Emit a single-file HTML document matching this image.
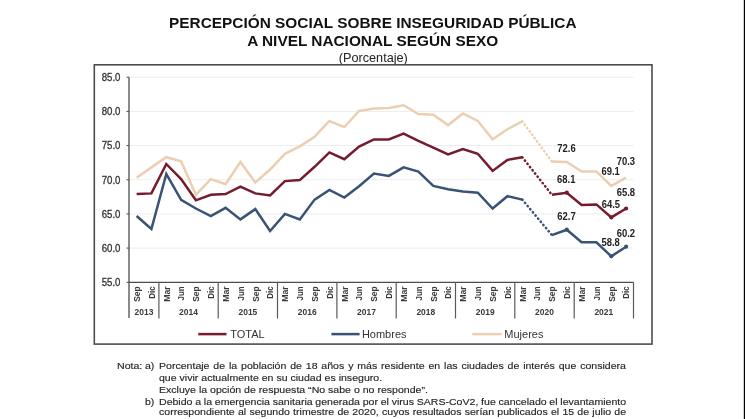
<!DOCTYPE html>
<html lang="es"><head><meta charset="utf-8">
<title>Percepción social sobre inseguridad pública</title>
<style>
html,body{margin:0;padding:0;background:#fff;}
body{width:745px;height:419px;overflow:hidden;position:relative;font-family:"Liberation Sans",Arial,sans-serif;}
svg{position:absolute;left:0;top:0;}
svg text{font-family:"Liberation Sans",Arial,sans-serif;}
.nota{position:absolute;left:0;top:0;width:745px;height:419px;color:#262626;font-size:9.8px;-webkit-text-stroke:0.15px #262626;}
.nl{position:absolute;white-space:nowrap;line-height:10px;transform:scaleX(1.078);transform-origin:0 0;}
.j{display:flex;justify-content:space-between;width:433.4px;}
</style></head><body>
<svg width="745" height="419" viewBox="0 0 745 419">
<rect x="0" y="0" width="745" height="419" fill="#fff"/>

<text x="169.1" y="28.2" font-size="15.2" font-weight="bold" fill="#111" textLength="407.4" lengthAdjust="spacingAndGlyphs">PERCEPCIÓN SOCIAL SOBRE INSEGURIDAD PÚBLICA</text>
<text x="247.2" y="46.0" font-size="15.2" font-weight="bold" fill="#111" textLength="251" lengthAdjust="spacingAndGlyphs">A NIVEL NACIONAL SEGÚN SEXO</text>
<text x="373.3" y="62" text-anchor="middle" font-size="12.7" fill="#222">(Porcentaje)</text>
<rect x="94.3" y="64.8" width="557.7" height="279.3" fill="none" stroke="#4d4d4d" stroke-width="1.6"/>
<line x1="129.0" y1="77.2" x2="633.5" y2="77.2" stroke="#ededed" stroke-width="1"/>
<line x1="129.0" y1="111.4" x2="633.5" y2="111.4" stroke="#ededed" stroke-width="1"/>
<line x1="129.0" y1="145.6" x2="633.5" y2="145.6" stroke="#ededed" stroke-width="1"/>
<line x1="129.0" y1="179.8" x2="633.5" y2="179.8" stroke="#ededed" stroke-width="1"/>
<line x1="129.0" y1="213.9" x2="633.5" y2="213.9" stroke="#ededed" stroke-width="1"/>
<line x1="129.0" y1="248.1" x2="633.5" y2="248.1" stroke="#ededed" stroke-width="1"/>
<line x1="126.5" y1="77.2" x2="129.0" y2="77.2" stroke="#4d4d4d" stroke-width="1"/>
<text x="101.7" y="80.6" font-size="10.2" fill="#333" stroke="#333" stroke-width="0.3" textLength="18.7" lengthAdjust="spacingAndGlyphs">85.0</text>
<line x1="126.5" y1="111.4" x2="129.0" y2="111.4" stroke="#4d4d4d" stroke-width="1"/>
<text x="101.7" y="114.9" font-size="10.2" fill="#333" stroke="#333" stroke-width="0.3" textLength="18.7" lengthAdjust="spacingAndGlyphs">80.0</text>
<line x1="126.5" y1="145.6" x2="129.0" y2="145.6" stroke="#4d4d4d" stroke-width="1"/>
<text x="101.7" y="149.2" font-size="10.2" fill="#333" stroke="#333" stroke-width="0.3" textLength="18.7" lengthAdjust="spacingAndGlyphs">75.0</text>
<line x1="126.5" y1="179.8" x2="129.0" y2="179.8" stroke="#4d4d4d" stroke-width="1"/>
<text x="101.7" y="183.5" font-size="10.2" fill="#333" stroke="#333" stroke-width="0.3" textLength="18.7" lengthAdjust="spacingAndGlyphs">70.0</text>
<line x1="126.5" y1="213.9" x2="129.0" y2="213.9" stroke="#4d4d4d" stroke-width="1"/>
<text x="101.7" y="217.8" font-size="10.2" fill="#333" stroke="#333" stroke-width="0.3" textLength="18.7" lengthAdjust="spacingAndGlyphs">65.0</text>
<line x1="126.5" y1="248.1" x2="129.0" y2="248.1" stroke="#4d4d4d" stroke-width="1"/>
<text x="101.7" y="252.1" font-size="10.2" fill="#333" stroke="#333" stroke-width="0.3" textLength="18.7" lengthAdjust="spacingAndGlyphs">60.0</text>
<line x1="126.5" y1="282.3" x2="129.0" y2="282.3" stroke="#4d4d4d" stroke-width="1"/>
<text x="101.7" y="286.4" font-size="10.2" fill="#333" stroke="#333" stroke-width="0.3" textLength="18.7" lengthAdjust="spacingAndGlyphs">55.0</text>
<line x1="129.0" y1="77.2" x2="129.0" y2="318.0" stroke="#4d4d4d" stroke-width="1.3"/>
<line x1="129.0" y1="282.3" x2="633.5" y2="282.3" stroke="#4d4d4d" stroke-width="1.3"/>
<line x1="158.9" y1="282.3" x2="158.9" y2="318.5" stroke="#5a5a5a" stroke-width="1.2"/>
<line x1="218.2" y1="282.3" x2="218.2" y2="318.5" stroke="#5a5a5a" stroke-width="1.2"/>
<line x1="277.5" y1="282.3" x2="277.5" y2="318.5" stroke="#5a5a5a" stroke-width="1.2"/>
<line x1="336.9" y1="282.3" x2="336.9" y2="318.5" stroke="#5a5a5a" stroke-width="1.2"/>
<line x1="396.2" y1="282.3" x2="396.2" y2="318.5" stroke="#5a5a5a" stroke-width="1.2"/>
<line x1="455.5" y1="282.3" x2="455.5" y2="318.5" stroke="#5a5a5a" stroke-width="1.2"/>
<line x1="514.8" y1="282.3" x2="514.8" y2="318.5" stroke="#5a5a5a" stroke-width="1.2"/>
<line x1="574.2" y1="282.3" x2="574.2" y2="318.5" stroke="#5a5a5a" stroke-width="1.2"/>
<line x1="633.5" y1="282.3" x2="633.5" y2="318.5" stroke="#5a5a5a" stroke-width="1.2"/>
<text transform="translate(136.6,286.3) rotate(-90)" x="0" y="0" text-anchor="end" font-size="9.2" font-weight="bold" fill="#3a3a3a" dy="3.2" textLength="15.5" lengthAdjust="spacingAndGlyphs">Sep</text>
<text transform="translate(151.4,286.3) rotate(-90)" x="0" y="0" text-anchor="end" font-size="9.2" font-weight="bold" fill="#3a3a3a" dy="3.2" textLength="12.4" lengthAdjust="spacingAndGlyphs">Dic</text>
<text transform="translate(166.3,286.3) rotate(-90)" x="0" y="0" text-anchor="end" font-size="9.2" font-weight="bold" fill="#3a3a3a" dy="3.2" textLength="15.5" lengthAdjust="spacingAndGlyphs">Mar</text>
<text transform="translate(181.1,286.3) rotate(-90)" x="0" y="0" text-anchor="end" font-size="9.2" font-weight="bold" fill="#3a3a3a" dy="3.2" textLength="14.1" lengthAdjust="spacingAndGlyphs">Jun</text>
<text transform="translate(195.9,286.3) rotate(-90)" x="0" y="0" text-anchor="end" font-size="9.2" font-weight="bold" fill="#3a3a3a" dy="3.2" textLength="15.5" lengthAdjust="spacingAndGlyphs">Sep</text>
<text transform="translate(210.8,286.3) rotate(-90)" x="0" y="0" text-anchor="end" font-size="9.2" font-weight="bold" fill="#3a3a3a" dy="3.2" textLength="12.4" lengthAdjust="spacingAndGlyphs">Dic</text>
<text transform="translate(225.6,286.3) rotate(-90)" x="0" y="0" text-anchor="end" font-size="9.2" font-weight="bold" fill="#3a3a3a" dy="3.2" textLength="15.5" lengthAdjust="spacingAndGlyphs">Mar</text>
<text transform="translate(240.4,286.3) rotate(-90)" x="0" y="0" text-anchor="end" font-size="9.2" font-weight="bold" fill="#3a3a3a" dy="3.2" textLength="14.1" lengthAdjust="spacingAndGlyphs">Jun</text>
<text transform="translate(255.3,286.3) rotate(-90)" x="0" y="0" text-anchor="end" font-size="9.2" font-weight="bold" fill="#3a3a3a" dy="3.2" textLength="15.5" lengthAdjust="spacingAndGlyphs">Sep</text>
<text transform="translate(270.1,286.3) rotate(-90)" x="0" y="0" text-anchor="end" font-size="9.2" font-weight="bold" fill="#3a3a3a" dy="3.2" textLength="12.4" lengthAdjust="spacingAndGlyphs">Dic</text>
<text transform="translate(284.9,286.3) rotate(-90)" x="0" y="0" text-anchor="end" font-size="9.2" font-weight="bold" fill="#3a3a3a" dy="3.2" textLength="15.5" lengthAdjust="spacingAndGlyphs">Mar</text>
<text transform="translate(299.8,286.3) rotate(-90)" x="0" y="0" text-anchor="end" font-size="9.2" font-weight="bold" fill="#3a3a3a" dy="3.2" textLength="14.1" lengthAdjust="spacingAndGlyphs">Jun</text>
<text transform="translate(314.6,286.3) rotate(-90)" x="0" y="0" text-anchor="end" font-size="9.2" font-weight="bold" fill="#3a3a3a" dy="3.2" textLength="15.5" lengthAdjust="spacingAndGlyphs">Sep</text>
<text transform="translate(329.4,286.3) rotate(-90)" x="0" y="0" text-anchor="end" font-size="9.2" font-weight="bold" fill="#3a3a3a" dy="3.2" textLength="12.4" lengthAdjust="spacingAndGlyphs">Dic</text>
<text transform="translate(344.3,286.3) rotate(-90)" x="0" y="0" text-anchor="end" font-size="9.2" font-weight="bold" fill="#3a3a3a" dy="3.2" textLength="15.5" lengthAdjust="spacingAndGlyphs">Mar</text>
<text transform="translate(359.1,286.3) rotate(-90)" x="0" y="0" text-anchor="end" font-size="9.2" font-weight="bold" fill="#3a3a3a" dy="3.2" textLength="14.1" lengthAdjust="spacingAndGlyphs">Jun</text>
<text transform="translate(373.9,286.3) rotate(-90)" x="0" y="0" text-anchor="end" font-size="9.2" font-weight="bold" fill="#3a3a3a" dy="3.2" textLength="15.5" lengthAdjust="spacingAndGlyphs">Sep</text>
<text transform="translate(388.8,286.3) rotate(-90)" x="0" y="0" text-anchor="end" font-size="9.2" font-weight="bold" fill="#3a3a3a" dy="3.2" textLength="12.4" lengthAdjust="spacingAndGlyphs">Dic</text>
<text transform="translate(403.6,286.3) rotate(-90)" x="0" y="0" text-anchor="end" font-size="9.2" font-weight="bold" fill="#3a3a3a" dy="3.2" textLength="15.5" lengthAdjust="spacingAndGlyphs">Mar</text>
<text transform="translate(418.4,286.3) rotate(-90)" x="0" y="0" text-anchor="end" font-size="9.2" font-weight="bold" fill="#3a3a3a" dy="3.2" textLength="14.1" lengthAdjust="spacingAndGlyphs">Jun</text>
<text transform="translate(433.3,286.3) rotate(-90)" x="0" y="0" text-anchor="end" font-size="9.2" font-weight="bold" fill="#3a3a3a" dy="3.2" textLength="15.5" lengthAdjust="spacingAndGlyphs">Sep</text>
<text transform="translate(448.1,286.3) rotate(-90)" x="0" y="0" text-anchor="end" font-size="9.2" font-weight="bold" fill="#3a3a3a" dy="3.2" textLength="12.4" lengthAdjust="spacingAndGlyphs">Dic</text>
<text transform="translate(462.9,286.3) rotate(-90)" x="0" y="0" text-anchor="end" font-size="9.2" font-weight="bold" fill="#3a3a3a" dy="3.2" textLength="15.5" lengthAdjust="spacingAndGlyphs">Mar</text>
<text transform="translate(477.8,286.3) rotate(-90)" x="0" y="0" text-anchor="end" font-size="9.2" font-weight="bold" fill="#3a3a3a" dy="3.2" textLength="14.1" lengthAdjust="spacingAndGlyphs">Jun</text>
<text transform="translate(492.6,286.3) rotate(-90)" x="0" y="0" text-anchor="end" font-size="9.2" font-weight="bold" fill="#3a3a3a" dy="3.2" textLength="15.5" lengthAdjust="spacingAndGlyphs">Sep</text>
<text transform="translate(507.4,286.3) rotate(-90)" x="0" y="0" text-anchor="end" font-size="9.2" font-weight="bold" fill="#3a3a3a" dy="3.2" textLength="12.4" lengthAdjust="spacingAndGlyphs">Dic</text>
<text transform="translate(522.3,286.3) rotate(-90)" x="0" y="0" text-anchor="end" font-size="9.2" font-weight="bold" fill="#3a3a3a" dy="3.2" textLength="15.5" lengthAdjust="spacingAndGlyphs">Mar</text>
<text transform="translate(537.1,286.3) rotate(-90)" x="0" y="0" text-anchor="end" font-size="9.2" font-weight="bold" fill="#3a3a3a" dy="3.2" textLength="14.1" lengthAdjust="spacingAndGlyphs">Jun</text>
<text transform="translate(551.9,286.3) rotate(-90)" x="0" y="0" text-anchor="end" font-size="9.2" font-weight="bold" fill="#3a3a3a" dy="3.2" textLength="15.5" lengthAdjust="spacingAndGlyphs">Sep</text>
<text transform="translate(566.8,286.3) rotate(-90)" x="0" y="0" text-anchor="end" font-size="9.2" font-weight="bold" fill="#3a3a3a" dy="3.2" textLength="12.4" lengthAdjust="spacingAndGlyphs">Dic</text>
<text transform="translate(581.6,286.3) rotate(-90)" x="0" y="0" text-anchor="end" font-size="9.2" font-weight="bold" fill="#3a3a3a" dy="3.2" textLength="15.5" lengthAdjust="spacingAndGlyphs">Mar</text>
<text transform="translate(596.4,286.3) rotate(-90)" x="0" y="0" text-anchor="end" font-size="9.2" font-weight="bold" fill="#3a3a3a" dy="3.2" textLength="14.1" lengthAdjust="spacingAndGlyphs">Jun</text>
<text transform="translate(611.3,286.3) rotate(-90)" x="0" y="0" text-anchor="end" font-size="9.2" font-weight="bold" fill="#3a3a3a" dy="3.2" textLength="15.5" lengthAdjust="spacingAndGlyphs">Sep</text>
<text transform="translate(626.1,286.3) rotate(-90)" x="0" y="0" text-anchor="end" font-size="9.2" font-weight="bold" fill="#3a3a3a" dy="3.2" textLength="12.4" lengthAdjust="spacingAndGlyphs">Dic</text>
<text x="144.0" y="315.1" text-anchor="middle" font-size="9.4" font-weight="bold" fill="#3a3a3a" textLength="18.8" lengthAdjust="spacingAndGlyphs">2013</text>
<text x="188.5" y="315.1" text-anchor="middle" font-size="9.4" font-weight="bold" fill="#3a3a3a" textLength="18.8" lengthAdjust="spacingAndGlyphs">2014</text>
<text x="247.9" y="315.1" text-anchor="middle" font-size="9.4" font-weight="bold" fill="#3a3a3a" textLength="18.8" lengthAdjust="spacingAndGlyphs">2015</text>
<text x="307.2" y="315.1" text-anchor="middle" font-size="9.4" font-weight="bold" fill="#3a3a3a" textLength="18.8" lengthAdjust="spacingAndGlyphs">2016</text>
<text x="366.5" y="315.1" text-anchor="middle" font-size="9.4" font-weight="bold" fill="#3a3a3a" textLength="18.8" lengthAdjust="spacingAndGlyphs">2017</text>
<text x="425.8" y="315.1" text-anchor="middle" font-size="9.4" font-weight="bold" fill="#3a3a3a" textLength="18.8" lengthAdjust="spacingAndGlyphs">2018</text>
<text x="485.2" y="315.1" text-anchor="middle" font-size="9.4" font-weight="bold" fill="#3a3a3a" textLength="18.8" lengthAdjust="spacingAndGlyphs">2019</text>
<text x="544.5" y="315.1" text-anchor="middle" font-size="9.4" font-weight="bold" fill="#3a3a3a" textLength="18.8" lengthAdjust="spacingAndGlyphs">2020</text>
<text x="603.8" y="315.1" text-anchor="middle" font-size="9.4" font-weight="bold" fill="#3a3a3a" textLength="18.8" lengthAdjust="spacingAndGlyphs">2021</text>
<polyline points="136.6,177.7 151.4,167.4 166.3,157.2 181.1,161.3 195.9,194.8 210.8,179.1 225.6,184.2 240.4,162.0 255.3,182.5 270.1,169.5 284.9,153.8 299.8,146.3 314.6,136.7 329.4,121.0 344.3,127.1 359.1,111.0 373.9,108.6 388.8,108.0 403.6,105.2 418.4,114.1 433.3,114.8 448.1,125.1 462.9,113.4 477.8,121.0 492.6,139.4 507.4,129.2 522.3,121.3" fill="none" stroke="#eccfb2" stroke-width="2.5" stroke-linejoin="miter" stroke-miterlimit="3"/>
<line x1="522.3" y1="121.3" x2="551.9" y2="161.6" stroke="#eccfb2" stroke-width="2.5" stroke-dasharray="0.4 3.7" stroke-linecap="round"/>
<polyline points="551.9,161.6 566.8,162.0 581.6,171.5 596.4,171.5 611.3,185.9 626.1,177.7" fill="none" stroke="#eccfb2" stroke-width="2.5" stroke-linejoin="miter" stroke-miterlimit="3"/>
<polyline points="136.6,194.1 151.4,193.4 166.3,164.0 181.1,179.1 195.9,200.3 210.8,194.8 225.6,194.1 240.4,186.6 255.3,193.4 270.1,195.5 284.9,181.1 299.8,180.1 314.6,166.8 329.4,152.4 344.3,159.2 359.1,146.6 373.9,139.4 388.8,139.4 403.6,133.6 418.4,140.8 433.3,147.6 448.1,154.5 462.9,149.0 477.8,153.8 492.6,170.9 507.4,159.9 522.3,157.2" fill="none" stroke="#741c2c" stroke-width="2.5" stroke-linejoin="miter" stroke-miterlimit="3"/>
<line x1="522.3" y1="157.2" x2="551.9" y2="194.8" stroke="#741c2c" stroke-width="2.5" stroke-dasharray="0.4 3.7" stroke-linecap="round"/>
<polyline points="551.9,194.8 566.8,192.7 581.6,205.0 596.4,204.4 611.3,217.4 626.1,208.5" fill="none" stroke="#741c2c" stroke-width="2.5" stroke-linejoin="miter" stroke-miterlimit="3"/>
<polyline points="136.6,216.0 151.4,229.0 166.3,173.9 181.1,199.9 195.9,208.5 210.8,216.0 225.6,207.8 240.4,219.4 255.3,209.1 270.1,231.0 284.9,213.9 299.8,219.4 314.6,199.6 329.4,190.0 344.3,197.5 359.1,186.2 373.9,173.6 388.8,175.9 403.6,167.4 418.4,171.5 433.3,185.9 448.1,189.3 462.9,191.4 477.8,192.7 492.6,208.5 507.4,196.2 522.3,199.6" fill="none" stroke="#3a5274" stroke-width="2.5" stroke-linejoin="miter" stroke-miterlimit="3"/>
<line x1="522.3" y1="199.6" x2="551.9" y2="235.1" stroke="#3a5274" stroke-width="2.5" stroke-dasharray="0.4 3.7" stroke-linecap="round"/>
<polyline points="551.9,235.1 566.8,229.7 581.6,242.3 596.4,242.3 611.3,256.3 626.1,246.7" fill="none" stroke="#3a5274" stroke-width="2.5" stroke-linejoin="miter" stroke-miterlimit="3"/>
<circle cx="566.8" cy="192.7" r="2.1" fill="#741c2c"/>
<circle cx="611.3" cy="217.4" r="2.1" fill="#741c2c"/>
<circle cx="626.1" cy="208.5" r="2.1" fill="#741c2c"/>
<circle cx="566.8" cy="229.7" r="2.1" fill="#3a5274"/>
<circle cx="611.3" cy="256.3" r="2.1" fill="#3a5274"/>
<circle cx="626.1" cy="246.7" r="2.1" fill="#3a5274"/>
<text x="557.3" y="152.0" font-size="10.4" font-weight="bold" fill="#222" textLength="18.4" lengthAdjust="spacingAndGlyphs">72.6</text>
<text x="557.0" y="183.3" font-size="10.4" font-weight="bold" fill="#222" textLength="18.4" lengthAdjust="spacingAndGlyphs">68.1</text>
<text x="557.3" y="219.7" font-size="10.4" font-weight="bold" fill="#222" textLength="18.4" lengthAdjust="spacingAndGlyphs">62.7</text>
<text x="601.4" y="175.4" font-size="10.4" font-weight="bold" fill="#222" textLength="18.4" lengthAdjust="spacingAndGlyphs">69.1</text>
<text x="601.7" y="207.5" font-size="10.4" font-weight="bold" fill="#222" textLength="18.4" lengthAdjust="spacingAndGlyphs">64.5</text>
<text x="601.4" y="246.2" font-size="10.4" font-weight="bold" fill="#222" textLength="18.4" lengthAdjust="spacingAndGlyphs">58.8</text>
<text x="616.7" y="165.4" font-size="10.4" font-weight="bold" fill="#222" textLength="18.4" lengthAdjust="spacingAndGlyphs">70.3</text>
<text x="616.7" y="195.9" font-size="10.4" font-weight="bold" fill="#222" textLength="18.4" lengthAdjust="spacingAndGlyphs">65.8</text>
<text x="616.7" y="236.8" font-size="10.4" font-weight="bold" fill="#222" textLength="18.4" lengthAdjust="spacingAndGlyphs">60.2</text>
<line x1="198.3" y1="334.1" x2="226.5" y2="334.1" stroke="#741c2c" stroke-width="2.5"/>
<text x="230.3" y="338.4" font-size="11" fill="#333">TOTAL</text>
<line x1="331.4" y1="334.1" x2="359.6" y2="334.1" stroke="#3a5274" stroke-width="2.5"/>
<text x="361.9" y="338.4" font-size="11" fill="#333">Hombres</text>
<line x1="472.3" y1="334.1" x2="501.6" y2="334.1" stroke="#eccfb2" stroke-width="2.5"/>
<text x="504.3" y="338.4" font-size="11" fill="#333">Mujeres</text>
<rect x="743.8" y="0" width="1.2" height="419" fill="#000"/>
</svg>
<div class="nota">
<div class="nl" style="left:116.6px;top:361.04px;">Nota:</div>
<div class="nl" style="left:145.0px;top:361.04px;">a)</div>
<div class="nl j" style="left:159.2px;top:361.04px;"><span>Porcentaje</span><span>de</span><span>la</span><span>población</span><span>de</span><span>18</span><span>años</span><span>y</span><span>más</span><span>residente</span><span>en</span><span>las</span><span>ciudades</span><span>de</span><span>interés</span><span>que</span><span>considera</span></div>
<div class="nl" style="left:159.2px;top:372.94px;">que vivir actualmente en su ciudad es inseguro.</div>
<div class="nl" style="left:159.2px;top:385.04px;">Excluye la opción de respuesta “No sabe o no responde”.</div>
<div class="nl" style="left:145.3px;top:396.54px;">b)</div>
<div class="nl j" style="left:159.2px;top:396.54px;"><span>Debido</span><span>a</span><span>la</span><span>emergencia</span><span>sanitaria</span><span>generada</span><span>por</span><span>el</span><span>virus</span><span>SARS-CoV2,</span><span>fue</span><span>cancelado</span><span>el</span><span>levantamiento</span></div>
<div class="nl j" style="left:159.2px;top:407.14px;"><span>correspondiente</span><span>al</span><span>segundo</span><span>trimestre</span><span>de</span><span>2020,</span><span>cuyos</span><span>resultados</span><span>serían</span><span>publicados</span><span>el</span><span>15</span><span>de</span><span>julio</span><span>de</span></div>
</div>
</body></html>
